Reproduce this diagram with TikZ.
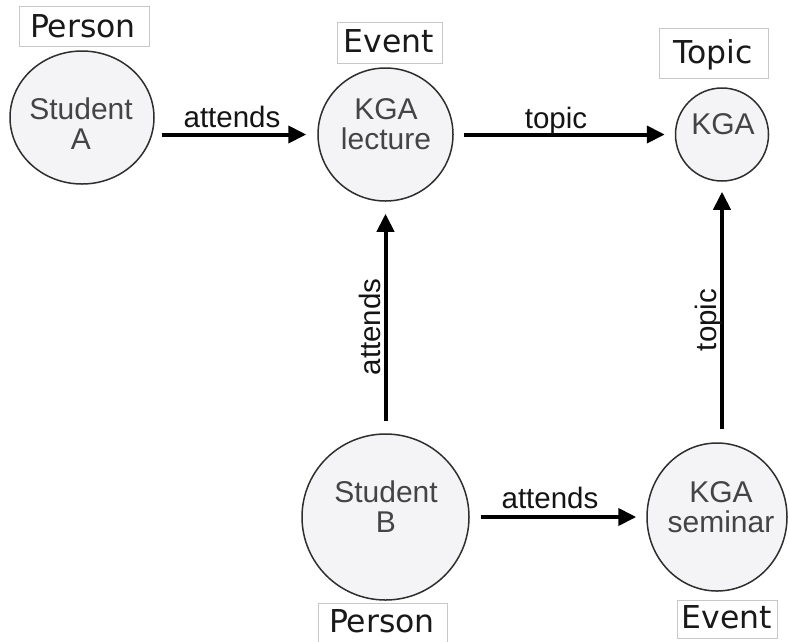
\documentclass[tikz,border=0pt]{standalone}
\usepackage{fontspec}
\setmainfont{Liberation Sans}
\newfontfamily\labfont{DejaVu Sans}
\usetikzlibrary{arrows.meta,shapes.geometric}
\definecolor{circfill}{HTML}{F4F4F6}
\definecolor{circline}{HTML}{2E2E2E}
\definecolor{boxline}{HTML}{C8C8C8}
\definecolor{intext}{HTML}{444444}
\tikzset{
  ent/.style={ellipse, draw=circline, line width=1.5pt, fill=circfill, inner sep=0pt},
  intxt/.style={align=center, text=intext, font=\fontsize{30}{30}\selectfont, inner sep=0pt},
  lbox/.style={draw=boxline, line width=1pt, inner sep=0pt},
  labtxt/.style={font=\labfont\fontsize{31.5}{36}\selectfont, text=black!90, inner sep=0pt, anchor=base},
  edgetxt/.style={font=\fontsize{29.5}{30}\selectfont, text=black!92, inner sep=0pt, anchor=base},
  arr/.style={-{Triangle[length=18pt,width=17pt]}, line width=4pt, black}
}
\begin{document}
\begin{tikzpicture}[x=1pt,y=-1pt]
\useasboundingbox (0,0) rectangle (789,641);
% circles
\node[ent, minimum width=144pt, minimum height=133pt] (sA) at (82,117.5) {};
\node[ent, minimum width=135pt, minimum height=133pt] (lec) at (385.5,134.5) {};
\node[ent, minimum width=93pt, minimum height=93pt] (kga) at (722,134.5) {};
\node[ent, minimum width=167pt, minimum height=166pt] (sB) at (385.5,517) {};
\node[ent, minimum width=140pt, minimum height=148pt] (sem) at (717,517) {};
% circle texts
\node[intxt] (sAt) at (81,123.5) {Student\\A};
\node[intxt] (lect) at (386,124) {KGA\\lecture};
\node[intxt] (kgat) at (723,124.5) {KGA};
\node[intxt] (sBt) at (386,506.5) {Student\\B};
\node[intxt] (semt) at (721,507.5) {KGA\\seminar};
% type boxes
\node[lbox, minimum width=130pt, minimum height=40pt] (pA) at (84,26) {};
\node[labtxt] (pAt) at (83,37) {Person};
\node[lbox, minimum width=105pt, minimum height=41pt] (evA) at (389.5,42.5) {};
\node[labtxt] (evAt) at (389,52) {Event};
\node[lbox, minimum width=109pt, minimum height=50pt] (tp) at (713.5,53) {};
\node[labtxt] (tpt) at (713,63) {Topic};
\node[lbox, minimum width=129pt, minimum height=44pt] (pB) at (382.5,625) {};
\node[labtxt] (pBt) at (382,632) {Person};
\node[lbox, minimum width=100pt, minimum height=38pt] (evB) at (727,619) {};
\node[labtxt] (evBt) at (727,628) {Event};
% connectors
\draw[arr, shorten <=7pt, shorten >=11pt] (sA.east |- lec.center) -- (lec.west);
\draw[arr, shorten <=10pt, shorten >=10pt] (lec.east) -- (kga.west);
\draw[arr, shorten <=12pt, shorten >=12pt] (sB.north) -- (lec.south);
\draw[arr, shorten <=13pt, shorten >=10pt] (kga.south |- sem.north) -- (kga.south);
\draw[arr, shorten <=11pt, shorten >=10pt] (sB.east) -- (sem.west);
% connector labels
\node[edgetxt] (l1) at (232,127) {attends};
\node[edgetxt] (l2) at (556,128) {topic};
\node[edgetxt, rotate=90] (l3) at (380,327) {attends};
\node[edgetxt, rotate=90] (l4) at (716,320) {topic};
\node[edgetxt] (l5) at (550,508) {attends};
\end{tikzpicture}
\end{document}
